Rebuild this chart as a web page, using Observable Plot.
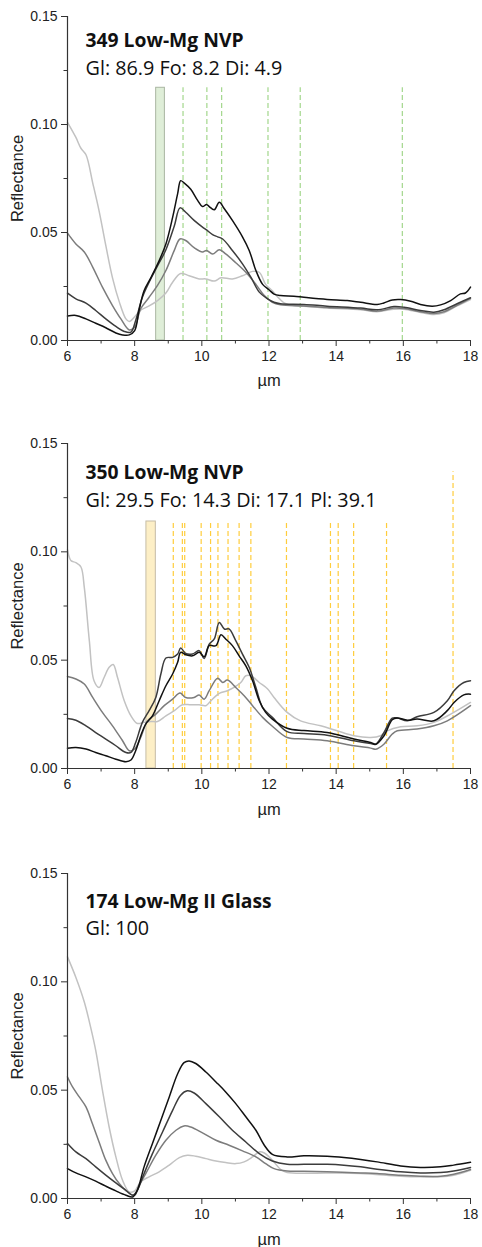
<!DOCTYPE html>
<html>
<head>
<meta charset="utf-8">
<script src="https://cdn.jsdelivr.net/npm/d3@7"></script>
<script src="https://cdn.jsdelivr.net/npm/@observablehq/plot@0.6"></script>
<style>
  html, body { margin: 0; padding: 0; background: #fff; }
  #chart { width: 482px; }
  #chart svg { display: block; }
</style>
</head>
<body>
<div id="chart"></div>
<script>
// ---------- Axis ticks ----------
const xMajorTicks = [6, 8, 10, 12, 14, 16, 18];
const xMinorTicks = [7, 9, 11, 13, 15, 17];
const yMajorTicks = [0, 0.05, 0.10, 0.15];
const yMinorTicks = [0.025, 0.075, 0.125];

// ---------- Panel 1: 349 Low-Mg NVP ----------
const p349Title = "349 Low-Mg NVP";
const p349Sub = "Gl: 86.9 Fo: 8.2 Di: 4.9";
const p349Band = [8.64, 8.90];
const p349BandTop = 0.117;
const p349Lines = [9.44, 10.15, 10.59, 11.97, 12.93, 15.97];
const p349Black = [[6,0.0113],[6.25,0.0116],[6.55,0.010],[6.84,0.008],[7.14,0.0059],[7.44,0.0035],[7.64,0.0026],[7.84,0.0026],[8.0,0.0046],[8.13,0.0139],[8.28,0.023],[8.48,0.029],[8.73,0.037],[8.93,0.0447],[9.13,0.057],[9.28,0.068],[9.37,0.074],[9.47,0.073],[9.67,0.070],[9.87,0.065],[10.02,0.062],[10.14,0.063],[10.22,0.062],[10.37,0.0605],[10.52,0.064],[10.67,0.061],[10.91,0.0556],[11.21,0.048],[11.41,0.0417],[11.61,0.0324],[11.81,0.026],[12.0,0.0235],[12.15,0.0215],[12.34,0.0208],[12.74,0.0205],[13.04,0.020],[13.73,0.019],[14.33,0.0185],[14.73,0.0177],[15.22,0.0167],[15.42,0.0174],[15.67,0.0188],[15.92,0.019],[16.22,0.0182],[16.51,0.0167],[16.86,0.0159],[17.11,0.0165],[17.41,0.0185],[17.70,0.0216],[17.85,0.022],[18.0,0.0247]];
const p349Dark = [[6,0.0219],[6.25,0.0193],[6.55,0.0173],[6.84,0.0139],[7.14,0.010],[7.44,0.0065],[7.69,0.0042],[7.89,0.0039],[8.03,0.0093],[8.23,0.020],[8.43,0.0270],[8.68,0.0345],[8.93,0.042],[9.18,0.053],[9.35,0.0614],[9.52,0.0594],[9.77,0.0556],[10.02,0.0525],[10.14,0.0512],[10.32,0.049],[10.47,0.048],[10.62,0.047],[10.91,0.0417],[11.21,0.0355],[11.46,0.0293],[11.71,0.0224],[11.96,0.0193],[12.15,0.0177],[12.34,0.017],[13.04,0.0167],[13.73,0.0159],[14.73,0.015],[15.22,0.0142],[15.72,0.0157],[16.02,0.0154],[16.51,0.0139],[16.91,0.0131],[17.21,0.0142],[17.6,0.017],[18,0.0198]];
const p349Mid = [[6,0.0497],[6.25,0.0447],[6.5,0.041],[6.75,0.034],[7.04,0.0247],[7.34,0.0162],[7.59,0.010],[7.84,0.0049],[8.0,0.0062],[8.18,0.0147],[8.43,0.020],[8.68,0.0255],[8.93,0.0324],[9.18,0.0417],[9.35,0.047],[9.52,0.0463],[9.77,0.043],[10.02,0.041],[10.14,0.0417],[10.32,0.040],[10.52,0.042],[10.72,0.040],[11.01,0.036],[11.31,0.0316],[11.61,0.026],[11.86,0.0208],[12.1,0.0177],[12.34,0.0165],[13.04,0.016],[13.73,0.0153],[14.73,0.0145],[15.22,0.0136],[15.72,0.015],[16.02,0.0148],[16.51,0.0133],[16.91,0.0125],[17.21,0.0133],[17.6,0.0163],[18,0.0195]];
const p349Light = [[6,0.101],[6.25,0.094],[6.4,0.089],[6.55,0.086],[6.75,0.073],[6.94,0.060],[7.14,0.044],[7.34,0.029],[7.54,0.018],[7.74,0.010],[7.84,0.0088],[8.0,0.011],[8.18,0.014],[8.43,0.016],[8.68,0.0185],[8.93,0.022],[9.13,0.027],[9.37,0.031],[9.62,0.030],[9.92,0.0285],[10.12,0.0285],[10.37,0.0275],[10.57,0.029],[10.91,0.0285],[11.21,0.030],[11.51,0.032],[11.71,0.0316],[11.9,0.026],[12.1,0.023],[12.3,0.0195],[12.5,0.017],[13.04,0.0158],[13.73,0.015],[14.73,0.0142],[15.22,0.0133],[15.72,0.0145],[16.02,0.0145],[16.51,0.013],[16.91,0.012],[17.21,0.0128],[17.6,0.016],[18,0.019]];

// ---------- Panel 2: 350 Low-Mg NVP ----------
const p350Title = "350 Low-Mg NVP";
const p350Sub = "Gl: 29.5 Fo: 14.3 Di: 17.1 Pl: 39.1";
const p350Band = [8.35, 8.63];
const p350BandTop = 0.114;
const p350Lines = [9.15, 9.42, 9.49, 9.98, 10.26, 10.48, 10.78, 11.11, 11.46, 12.52, 13.83, 14.06, 14.52, 15.50];
const p350TallLines = [17.48];
const p350TallTop = 0.137;
const p350Black = [[6,0.0094],[6.25,0.0097],[6.55,0.009],[6.84,0.0074],[7.14,0.0059],[7.44,0.0043],[7.74,0.0031],[7.89,0.0039],[8.03,0.0082],[8.18,0.0151],[8.33,0.0205],[8.53,0.0243],[8.73,0.0313],[8.93,0.0382],[9.13,0.0436],[9.28,0.049],[9.37,0.0536],[9.52,0.0525],[9.72,0.052],[9.92,0.0536],[10.07,0.0516],[10.22,0.0567],[10.42,0.0567],[10.57,0.0617],[10.71,0.0598],[10.91,0.0567],[11.11,0.052],[11.31,0.0474],[11.51,0.0405],[11.71,0.0313],[11.9,0.0259],[12.1,0.0228],[12.54,0.0186],[13.04,0.0175],[13.73,0.0166],[14.53,0.0136],[15.03,0.012],[15.18,0.0112],[15.42,0.015],[15.67,0.0225],[15.82,0.0233],[16.12,0.0223],[16.41,0.0228],[16.91,0.022],[17.31,0.0267],[17.51,0.0305],[17.8,0.034],[18,0.0343]];
const p350Dark = [[6,0.0231],[6.25,0.0223],[6.55,0.0197],[6.84,0.0166],[7.14,0.0136],[7.44,0.0105],[7.74,0.0074],[7.89,0.0074],[8.03,0.012],[8.23,0.0213],[8.43,0.0267],[8.63,0.0328],[8.78,0.0436],[8.93,0.051],[9.13,0.0513],[9.28,0.0528],[9.37,0.0556],[9.52,0.0531],[9.72,0.0528],[9.92,0.0544],[10.07,0.0508],[10.22,0.0574],[10.37,0.0598],[10.52,0.0674],[10.67,0.0644],[10.81,0.0644],[11.01,0.059],[11.21,0.0528],[11.41,0.0467],[11.61,0.0374],[11.81,0.0282],[12.1,0.0236],[12.54,0.017],[13.04,0.0162],[13.73,0.0154],[14.53,0.0128],[15.03,0.0115],[15.18,0.0112],[15.42,0.0165],[15.67,0.0232],[15.82,0.0233],[16.12,0.022],[16.41,0.0239],[16.91,0.0259],[17.31,0.0313],[17.51,0.0359],[17.8,0.0397],[18,0.0405]];
const p350Mid = [[6,0.0425],[6.25,0.0413],[6.5,0.039],[6.75,0.0328],[7.04,0.0259],[7.34,0.0197],[7.64,0.0128],[7.84,0.0082],[8.0,0.009],[8.18,0.0143],[8.38,0.022],[8.63,0.0251],[8.88,0.029],[9.13,0.032],[9.35,0.0348],[9.52,0.0328],[9.77,0.0328],[9.92,0.0339],[10.07,0.032],[10.22,0.0359],[10.47,0.0417],[10.62,0.0397],[10.76,0.0408],[11.01,0.0374],[11.26,0.0336],[11.51,0.029],[11.81,0.0236],[12.1,0.0195],[12.54,0.0143],[13.04,0.0136],[13.73,0.0128],[14.53,0.0105],[15.03,0.0094],[15.18,0.0089],[15.42,0.0112],[15.67,0.0159],[15.82,0.0174],[16.41,0.0182],[16.91,0.0197],[17.31,0.022],[18,0.029]];
const p350Light = [[6,0.101],[6.1,0.096],[6.25,0.095],[6.4,0.093],[6.5,0.0836],[6.65,0.059],[6.79,0.0405],[6.94,0.0374],[7.09,0.042],[7.24,0.0467],[7.36,0.048],[7.49,0.042],[7.69,0.0313],[7.89,0.0243],[8.08,0.0208],[8.28,0.0213],[8.48,0.0217],[8.68,0.0217],[8.93,0.0243],[9.18,0.0267],[9.42,0.0294],[9.67,0.0294],[9.92,0.0294],[10.12,0.029],[10.27,0.0313],[10.52,0.0347],[10.76,0.0359],[10.96,0.0374],[11.16,0.0397],[11.31,0.0428],[11.46,0.0428],[11.71,0.0397],[11.96,0.0367],[12.15,0.0328],[12.54,0.0259],[12.94,0.022],[13.54,0.0197],[14.03,0.0174],[14.53,0.0151],[15.03,0.0143],[15.32,0.0151],[15.52,0.0174],[15.92,0.0193],[16.41,0.0197],[16.91,0.0213],[17.41,0.0251],[18,0.0305]];

// ---------- Panel 3: 174 Low-Mg II Glass ----------
const p174Title = "174 Low-Mg II Glass";
const p174Sub = "Gl: 100";
const p174Black = [[6,0.0138],[6.25,0.0118],[6.55,0.010],[6.84,0.008],[7.14,0.0057],[7.44,0.0035],[7.74,0.0015],[7.94,0.0007],[8.08,0.0038],[8.28,0.0146],[8.53,0.0254],[8.78,0.0361],[9.03,0.0469],[9.28,0.0576],[9.47,0.0627],[9.62,0.0635],[9.82,0.0623],[10.12,0.0584],[10.42,0.0538],[10.71,0.0492],[11.01,0.0438],[11.31,0.0377],[11.61,0.0315],[11.86,0.0246],[12.1,0.0204],[12.54,0.0192],[13.04,0.0197],[13.73,0.0195],[14.23,0.0189],[14.73,0.018],[15.22,0.0169],[15.92,0.015],[16.51,0.0143],[17.11,0.0146],[17.5,0.0154],[18,0.0167]];
const p174Dark = [[6,0.0254],[6.25,0.0215],[6.55,0.0184],[6.84,0.0146],[7.14,0.0108],[7.44,0.0072],[7.74,0.0038],[7.94,0.0015],[8.08,0.0038],[8.28,0.0115],[8.53,0.0207],[8.83,0.0307],[9.13,0.0407],[9.37,0.0477],[9.57,0.0497],[9.77,0.0487],[10.12,0.0438],[10.52,0.0377],[10.91,0.0315],[11.31,0.0261],[11.71,0.0207],[12.1,0.0173],[12.54,0.0158],[13.04,0.0158],[13.73,0.0158],[14.23,0.0154],[14.73,0.0146],[15.22,0.0135],[15.92,0.0123],[16.51,0.0118],[17.11,0.012],[17.5,0.0127],[18,0.0143]];
const p174Mid = [[6,0.0561],[6.15,0.0515],[6.35,0.0469],[6.55,0.0423],[6.74,0.0346],[6.94,0.0261],[7.14,0.0177],[7.34,0.0115],[7.54,0.0069],[7.79,0.003],[8.0,0.0015],[8.13,0.0061],[8.33,0.0115],[8.63,0.02],[8.93,0.0269],[9.23,0.0315],[9.47,0.0335],[9.67,0.033],[10.02,0.0303],[10.42,0.0269],[10.81,0.0246],[11.21,0.022],[11.61,0.0192],[11.9,0.0161],[12.15,0.0138],[12.54,0.0127],[13.04,0.0126],[13.73,0.0123],[14.73,0.0118],[15.22,0.0115],[15.92,0.0107],[16.51,0.0103],[17.11,0.0103],[17.5,0.0112],[18,0.0134]];
const p174Light = [[6,0.1115],[6.25,0.102],[6.5,0.0907],[6.69,0.079],[6.84,0.0684],[7.04,0.05],[7.24,0.033],[7.44,0.0192],[7.64,0.0084],[7.84,0.003],[8.0,0.0035],[8.18,0.0077],[8.43,0.01],[8.73,0.0123],[9.03,0.0154],[9.33,0.0189],[9.57,0.02],[9.82,0.0195],[10.12,0.0184],[10.42,0.0173],[10.71,0.0166],[11.01,0.0161],[11.26,0.0169],[11.51,0.0192],[11.71,0.0215],[11.86,0.021],[12.1,0.0177],[12.34,0.0135],[12.54,0.012],[13.73,0.0118],[14.73,0.0115],[15.92,0.0103],[16.51,0.01],[17.11,0.01],[17.5,0.0107],[18,0.013]];

// ---------- Styling ----------
const seriesColors = ["#111111", "#3c3c3c", "#7c7c7c", "#c2c2c2"];
const axisFont = "Arial, 'Liberation Sans', sans-serif";
const titleFont = "'Open Sans', sans-serif";

function panel(cfg) {
  const marks = [];
  if (cfg.band) {
    marks.push(Plot.rect([{x1: cfg.band[0], x2: cfg.band[1], y1: 0, y2: cfg.bandTop}], {
      x1: "x1", x2: "x2", y1: "y1", y2: "y2",
      fill: cfg.bandFill, stroke: cfg.bandStroke, strokeWidth: 1
    }));
  }
  if (cfg.lines) {
    marks.push(Plot.ruleX(cfg.lines, {x: d => d, y1: 0, y2: cfg.bandTop, stroke: cfg.dashColor, strokeWidth: 1.2, strokeDasharray: "5,3"}));
  }
  if (cfg.tall) {
    marks.push(Plot.ruleX(cfg.tall, {x: d => d, y1: 0, y2: cfg.tallTop, stroke: cfg.dashColor, strokeWidth: 1.2, strokeDasharray: "5,3"}));
  }
  // lightest drawn first, black on top
  [3, 2, 1, 0].forEach(i => {
    marks.push(Plot.line(cfg.series[i], {x: d => d[0], y: d => d[1], stroke: seriesColors[i], strokeWidth: 1.5, curve: "catmull-rom"}));
  });
  marks.push(
    Plot.ruleY([0], {stroke: "#333", strokeWidth: 1.2}),
    Plot.ruleX([6], {y1: 0, y2: 0.15, stroke: "#333", strokeWidth: 1.2}),
    Plot.axisX({ticks: xMajorTicks, tickSize: 6, tickPadding: 5, tickFormat: d => String(d), label: null, stroke: "#333", fill: "#222", fontSize: 14, fontFamily: axisFont}),
    Plot.axisX({ticks: xMinorTicks, tickSize: 3.5, tickFormat: () => "", label: null, stroke: "#333"}),
    Plot.axisY({ticks: yMajorTicks, tickSize: 6, tickPadding: 4, tickFormat: d3.format(".2f"), label: null, stroke: "#333", fill: "#222", fontSize: 14, fontFamily: axisFont}),
    Plot.axisY({ticks: yMinorTicks, tickSize: 3.5, tickFormat: () => "", label: null, stroke: "#333"}),
    Plot.text(["Reflectance"], {frameAnchor: "left", dx: -50, rotate: -90, textAnchor: "middle", lineAnchor: "middle", fontSize: 16.5, fill: "#222", fontFamily: axisFont}),
    Plot.text(["\u00B5m"], {frameAnchor: "bottom", dy: cfg.unitDy, textAnchor: "middle", lineAnchor: "middle", fontSize: 16.5, fill: "#222", fontFamily: axisFont}),
    Plot.text([cfg.title], {frameAnchor: "top-left", dx: 18, dy: cfg.titleDy, textAnchor: "start", lineAnchor: "top", fontSize: 19.3, fontWeight: "bold", fill: "#111", fontFamily: titleFont}),
    Plot.text([cfg.sub], {frameAnchor: "top-left", dx: 18, dy: cfg.subDy, textAnchor: "start", lineAnchor: "top", fontSize: 19.8, fill: "#111", fontFamily: titleFont})
  );
  return Plot.plot({
    width: 482,
    height: cfg.height,
    marginLeft: 67,
    marginRight: 12,
    marginTop: cfg.marginTop,
    marginBottom: cfg.marginBottom,
    x: {domain: [6, 18]},
    y: {domain: [0, 0.15]},
    style: {fontFamily: axisFont, fontSize: "14px", background: "#fff", color: "#222", overflow: "visible"},
    marks
  });
}

const chart = document.getElementById("chart");
chart.append(panel({
  height: 426, marginTop: 16, marginBottom: 86, unitDy: 40,
  series: [p349Black, p349Dark, p349Mid, p349Light],
  band: p349Band, bandTop: p349BandTop, bandFill: "#dfeed8", bandStroke: "#a9b6a2",
  lines: p349Lines, dashColor: "#a3d78c",
  title: p349Title, sub: p349Sub, titleDy: 17, subDy: 44
}));
chart.append(panel({
  height: 430, marginTop: 17, marginBottom: 88, unitDy: 41,
  series: [p350Black, p350Dark, p350Mid, p350Light],
  band: p350Band, bandTop: p350BandTop, bandFill: "#fdefc6", bandStroke: "#c5bca6",
  lines: p350Lines, tall: p350TallLines, tallTop: p350TallTop, dashColor: "#ffcd3c",
  title: p350Title, sub: p350Sub, titleDy: 22, subDy: 49
}));
chart.append(panel({
  height: 391, marginTop: 17, marginBottom: 49, unitDy: 41,
  series: [p174Black, p174Dark, p174Mid, p174Light],
  title: p174Title, sub: p174Sub, titleDy: 21, subDy: 47
}));
</script>
</body>
</html>
